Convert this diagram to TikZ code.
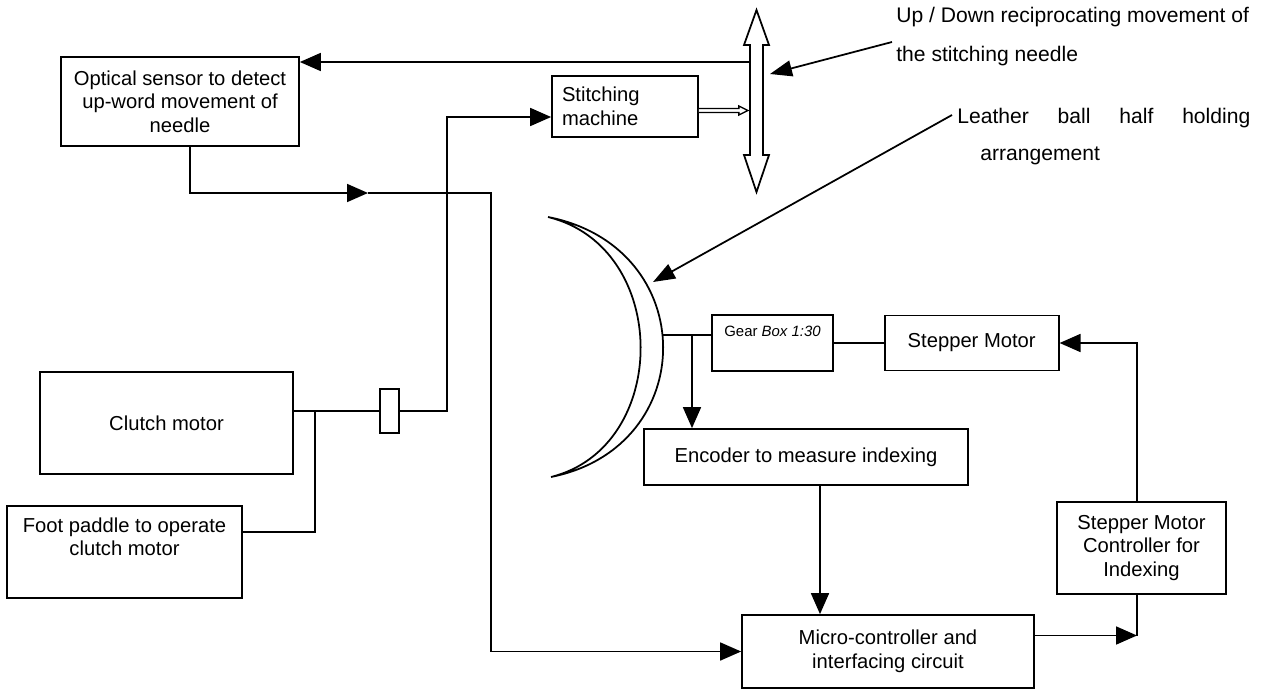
\documentclass[tikz,border=0pt]{standalone}
\usepackage{fontspec}
\setmainfont{Liberation Sans}
\usetikzlibrary{positioning,arrows.meta,calc}

\newcommand{\blockfont}{\fontsize{11.5}{13.5}\selectfont}
\newcommand{\notefont}{\fontsize{12}{14}\selectfont}
\newcommand{\gearfont}{\fontsize{8.5}{10}\selectfont}

\tikzset{
    % Plain boxes
    block/.style={
        draw=black,
        fill=white,
        line width=1pt,
        align=center,
        font=\blockfont,
        inner sep=2pt
    },
    % Free notes
    note/.style={
        font=\notefont,
        align=left,
        inner sep=0pt,
        anchor=north west
    },
    % Arrows
    dataarrow/.style={
        -{Triangle[length=0.42cm,width=0.36cm]},
        line width=1pt
    },
    leader/.style={
        -{Triangle[length=0.44cm,width=0.32cm]},
        line width=1pt
    },
    link/.style={
        line width=1pt
    }
}

\begin{document}
\begin{tikzpicture}[x=0.02cm, y=-0.02cm, node distance=1cm]
\useasboundingbox (0,0) rectangle (1262,690);

% === SENSING AND STITCHING ===
\node[block, minimum width=4.76cm, minimum height=1.78cm] (optical) at (180,101.5) {
    Optical sensor to detect\\
    up-word movement of\\
    needle
};

\node[block, align=left, text width=2.52cm, inner xsep=0.2cm, minimum height=1.22cm] (stitch) at (625,106.5) {
    Stitching\\
    machine
};

% needle (hollow double arrow)
\coordinate (needle) at (756.5,101);
\draw[link, fill=white] ($(needle)+(0,-91)$) -- ++(12.5,35) -- ++(-6,0) -- ++(0,110) -- ++(6,0)
    -- ++(-12.5,37) -- ++(-12.5,-37) -- ++(6,0) -- ++(0,-110) -- ++(-6,0) -- cycle;

% machine drives needle
\draw[line width=0.8pt, fill=white] ($(stitch.east)+(0,2)$) -- ++(40,0) -- ++(0,-2.5) -- ++(9,4.5)
    -- ++(-9,4.5) -- ++(0,-2.5) -- ++(-40,0);

% needle to sensor
\coordinate (needleL) at ($(needle)+(-8,-39)$);
\draw[dataarrow] (needleL) -- (needleL -| optical.east);

% sensor to micro-controller
\coordinate (optout) at ($(optical.south)+(10,0)$);
\coordinate (optarr) at (368,193);
\coordinate (optturn) at (491,193);

% === DRIVE ===
\node[block, minimum width=5.06cm, minimum height=2.04cm] (clutch) at (166.5,423) {Clutch motor};

\node[block, minimum width=4.7cm, minimum height=1.84cm] (foot) at (124.5,552) {
    Foot paddle to operate\\
    clutch motor\\
    \strut
};

\node[block, minimum width=0.38cm, minimum height=0.88cm, inner sep=0pt] (coupling) at (389.5,411) {};

\coordinate (clutchjoin) at (315,411);
\coordinate (stitchin) at ($(stitch.west)+(0,10.5)$);

\draw[link] (clutch.east |- coupling.west) -- (coupling.west);
\draw[link] ($(foot.east)+(0,-20)$) -| (clutchjoin);
\draw[dataarrow] (coupling.east) -| ($(stitchin)+(-104,0)$) -- (stitchin);

% === BALL HALF AND INDEXING ===
\coordinate (balltop) at (548,217);
\coordinate (ballbot) at (551,477);
\draw[link] (balltop) .. controls (701,247) and (701,447) .. (ballbot)
    .. controls (671,447) and (671,247) .. (balltop);

\node[block, font=\gearfont, minimum width=2.42cm, minimum height=1.12cm] (gear) at (772.5,343) {
    Gear \textit{Box 1:30}\\
    \strut
};

\node[block, minimum width=3.48cm, minimum height=1.1cm, right=1cm of gear] (stepper) {Stepper Motor};

\node[block, minimum width=6.48cm, minimum height=1.12cm] (encoder) at (806,457) {Encoder to measure indexing};

\node[block, minimum width=5.84cm, minimum height=1.46cm] (micro) at (888,651.5) {
    Micro-controller and\\
    interfacing circuit
};

\node[block, minimum width=3.38cm, minimum height=1.84cm] (ctrl) at (1141.5,548) {
    Stepper Motor\\
    Controller for\\
    Indexing
};

\coordinate (ballR) at (663,335);
\coordinate (encbranch) at (692,335);
\coordinate (encout) at ($(encoder.south)+(14,0)$);
\coordinate (microout) at ($(micro.east)+(0,-16)$);
\coordinate (ctrlin) at ($(ctrl.south)+(-4.5,0)$);

\draw[link] (ballR) -- (ballR -| gear.west);
\draw[dataarrow] (encbranch) -- (encbranch |- encoder.north);
\draw[link] (gear) -- (stepper);

\draw[dataarrow] (optout) |- (optarr);
\draw[dataarrow] (optarr) -- (optturn) |- (micro.west);
\draw[dataarrow] (encout) -- (encout |- micro.north);
\draw[dataarrow] (microout) -- (microout -| ctrlin);
\draw[link] (ctrlin) -- (microout -| ctrlin);
\draw[dataarrow] (ctrlin |- ctrl.north) |- (stepper.east);

% === NOTES ===
\node[note] (updown) at (896,7) {
    Up / Down reciprocating movement of\\[8pt]
    the stitching needle
};

\node[note] (leather) at (957,108) {
    \makebox[5.86cm][s]{Leather ball half holding}\\[7pt]
    \hspace*{0.46cm}arrangement
};

\coordinate (balltip) at (653,282);
\draw[leader] ($(updown.north west)+(-4,35)$) -- ($(needle)+(13.5,-27)$);
\draw[leader] ($(leather.north west)+(-5,7)$) -- (balltip);

\end{tikzpicture}
\end{document}
